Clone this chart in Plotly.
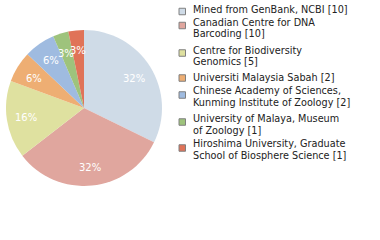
import math
import plotly.graph_objects as go

labels = [
    "Mined from GenBank, NCBI [10]",
    "Canadian Centre for DNA<br>Barcoding [10]",
    "Centre for Biodiversity<br>Genomics [5]",
    "Universiti Malaysia Sabah [2]",
    "Chinese Academy of Sciences,<br>Kunming Institute of Zoology [2]",
    "University of Malaya, Museum<br>of Zoology [1]",
    "Hiroshima University, Graduate<br>School of Biosphere Science [1]",
]
values = [10, 10, 5, 2, 2, 1, 1]
colors = ["#cfdbe7", "#e0a69e", "#dfe1a0", "#eeae73", "#9fbbe0", "#9ec37c", "#e07358"]

# layout (pixel positions of legend rows, style only)
legend_first_line_y = [10, 22, 50, 77, 90, 118, 143]
legend_square_y = [11.5, 25.5, 53, 78, 95, 122, 148]
line_h = 12

W, H = 380, 240
cx, cy, R = 84, 108, 78

fig = go.Figure()
fig.add_trace(go.Pie(
    values=values,
    labels=[l.replace("<br>", " ") for l in labels],
    marker=dict(colors=colors, line=dict(width=0)),
    sort=False, direction="clockwise", rotation=0,
    textinfo="none", hoverinfo="label+percent",
    showlegend=False,
    domain=dict(x=[(cx - R) / W, (cx + R) / W], y=[1 - (cy + R) / H, 1 - (cy - R) / H]),
))

annotations = []
shapes = []
total = sum(values)
cum = 0
for v in values:
    mid = (cum + v / 2) / total
    cum += v
    ang = 2 * math.pi * mid
    px = cx + 0.75 * R * math.sin(ang)
    py = cy - 0.75 * R * math.cos(ang) + 1
    annotations.append(dict(
        x=px / W, y=1 - py / H, xref="paper", yref="paper",
        text=f"{round(100 * v / total)}%", showarrow=False,
        font=dict(family="DejaVu Sans", size=10, color="white"),
        xanchor="center", yanchor="middle",
    ))

for lab, col, y0, sy in zip(labels, colors, legend_first_line_y, legend_square_y):
    for k, part in enumerate(lab.split("<br>")):
        yy = y0 + k * line_h
        annotations.append(dict(
            x=191 / W, y=1 - yy / H, xref="paper", yref="paper",
            text=part, showarrow=False, align="left",
            font=dict(family="DejaVu Sans", size=9.7, color="#222222"),
            xanchor="left", yanchor="middle",
        ))
    shapes.append(dict(
        type="rect", xref="paper", yref="paper",
        x0=179 / W, x1=185.5 / W, y0=1 - (sy - 3.25) / H, y1=1 - (sy + 3.25) / H,
        fillcolor=col, line=dict(color="#808080", width=1),
    ))

fig.update_layout(
    width=W, height=H, margin=dict(l=0, r=0, t=0, b=0),
    paper_bgcolor="white", plot_bgcolor="white",
    annotations=annotations, shapes=shapes,
)
fig.write_html("out.html")
